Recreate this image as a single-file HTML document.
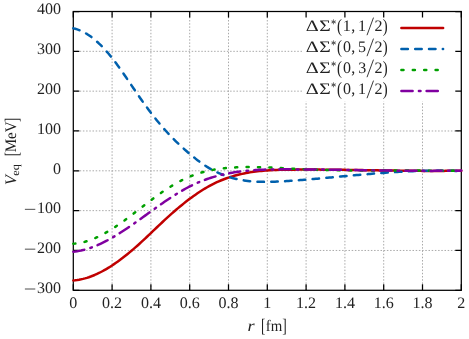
<!DOCTYPE html>
<html><head><meta charset="utf-8"><title>plot</title><style>html,body{margin:0;padding:0;background:#fff;}svg{display:block;will-change:transform;}</style></head><body>
<svg width="469" height="339" viewBox="0 0 469 339">
<rect width="469" height="339" fill="#fff"/>
<g stroke="#a0a0a0" stroke-width="0.9" stroke-dasharray="1.5 1.7" fill="none">
<path d="M112.10,290.30 V11.50"/>
<path d="M150.90,290.30 V11.50"/>
<path d="M189.70,290.30 V11.50"/>
<path d="M228.50,290.30 V11.50"/>
<path d="M267.30,290.30 V11.50"/>
<path d="M306.10,290.30 V11.50"/>
<path d="M344.90,290.30 V11.50"/>
<path d="M383.70,290.30 V11.50"/>
<path d="M422.50,290.30 V11.50"/>
<path d="M73.30,250.47 H461.30"/>
<path d="M73.30,210.64 H461.30"/>
<path d="M73.30,170.81 H461.30"/>
<path d="M73.30,130.99 H461.30"/>
<path d="M73.30,91.16 H461.30"/>
<path d="M73.30,51.33 H461.30"/>
</g>
<rect x="302.5" y="11.50" width="158.80" height="90.00" fill="#fff"/>
<g stroke="#000" stroke-width="1.25" fill="none">
<path d="M73.30,290.30 v-6.00 M73.30,11.50 v6.00"/>
<path d="M112.10,290.30 v-6.00 M112.10,11.50 v6.00"/>
<path d="M150.90,290.30 v-6.00 M150.90,11.50 v6.00"/>
<path d="M189.70,290.30 v-6.00 M189.70,11.50 v6.00"/>
<path d="M228.50,290.30 v-6.00 M228.50,11.50 v6.00"/>
<path d="M267.30,290.30 v-6.00 M267.30,11.50 v6.00"/>
<path d="M306.10,290.30 v-6.00 M306.10,11.50 v6.00"/>
<path d="M344.90,290.30 v-6.00 M344.90,11.50 v6.00"/>
<path d="M383.70,290.30 v-6.00 M383.70,11.50 v6.00"/>
<path d="M422.50,290.30 v-6.00 M422.50,11.50 v6.00"/>
<path d="M461.30,290.30 v-6.00 M461.30,11.50 v6.00"/>
<path d="M73.30,290.30 h6.00 M461.30,290.30 h-6.00"/>
<path d="M73.30,250.47 h6.00 M461.30,250.47 h-6.00"/>
<path d="M73.30,210.64 h6.00 M461.30,210.64 h-6.00"/>
<path d="M73.30,170.81 h6.00 M461.30,170.81 h-6.00"/>
<path d="M73.30,130.99 h6.00 M461.30,130.99 h-6.00"/>
<path d="M73.30,91.16 h6.00 M461.30,91.16 h-6.00"/>
<path d="M73.30,51.33 h6.00 M461.30,51.33 h-6.00"/>
<path d="M73.30,11.50 h6.00 M461.30,11.50 h-6.00"/>
<rect x="73.30" y="11.50" width="388.00" height="278.80"/>
</g>
<g fill="none" stroke-width="2.5" stroke-linecap="round" stroke-linejoin="round">
<path d="M73.30,280.45 L75.24,280.28 L77.18,280.03 L79.12,279.72 L81.06,279.34 L83.00,278.90 L84.94,278.40 L86.88,277.83 L88.82,277.20 L90.76,276.52 L92.70,275.78 L94.64,274.98 L96.58,274.12 L98.52,273.21 L100.46,272.25 L102.40,271.24 L104.34,270.18 L106.28,269.07 L108.22,267.91 L110.16,266.70 L112.10,265.45 L114.04,264.16 L115.98,262.83 L117.92,261.45 L119.86,260.03 L121.80,258.58 L123.74,257.08 L125.68,255.56 L127.62,253.99 L129.56,252.40 L131.50,250.77 L133.44,249.11 L135.38,247.42 L137.32,245.71 L139.26,243.96 L141.20,242.19 L143.14,240.40 L145.08,238.59 L147.02,236.76 L148.96,234.92 L150.90,233.07 L152.84,231.21 L154.78,229.36 L156.72,227.50 L158.66,225.66 L160.60,223.82 L162.54,222.00 L164.48,220.19 L166.42,218.40 L168.36,216.64 L170.30,214.89 L172.24,213.17 L174.18,211.47 L176.12,209.80 L178.06,208.15 L180.00,206.53 L181.94,204.93 L183.88,203.37 L185.82,201.83 L187.76,200.33 L189.70,198.86 L191.64,197.42 L193.58,196.02 L195.52,194.65 L197.46,193.32 L199.40,192.02 L201.34,190.76 L203.28,189.55 L205.22,188.37 L207.16,187.24 L209.10,186.15 L211.04,185.10 L212.98,184.10 L214.92,183.14 L216.86,182.22 L218.80,181.35 L220.74,180.52 L222.68,179.73 L224.62,178.98 L226.56,178.27 L228.50,177.60 L230.44,176.96 L232.38,176.36 L234.32,175.80 L236.26,175.26 L238.20,174.76 L240.14,174.29 L242.08,173.85 L244.02,173.44 L245.96,173.06 L247.90,172.70 L249.84,172.37 L251.78,172.07 L253.72,171.79 L255.66,171.53 L257.60,171.30 L259.54,171.08 L261.48,170.89 L263.42,170.71 L265.36,170.56 L267.30,170.42 L269.24,170.29 L271.18,170.18 L273.12,170.09 L275.06,170.00 L277.00,169.93 L278.94,169.87 L280.88,169.82 L282.82,169.77 L284.76,169.74 L286.70,169.71 L288.64,169.68 L290.58,169.66 L292.52,169.64 L294.46,169.63 L296.40,169.62 L298.34,169.61 L300.28,169.60 L302.22,169.59 L304.16,169.59 L306.10,169.59 L308.04,169.59 L309.98,169.59 L311.92,169.59 L313.86,169.60 L315.80,169.61 L317.74,169.61 L319.68,169.62 L321.62,169.63 L323.56,169.65 L325.50,169.66 L327.44,169.68 L329.38,169.69 L331.32,169.71 L333.26,169.73 L335.20,169.75 L337.14,169.77 L339.08,169.80 L341.02,169.82 L342.96,169.84 L344.90,169.87 L346.84,169.89 L348.78,169.92 L350.72,169.95 L352.66,169.97 L354.60,170.00 L356.54,170.03 L358.48,170.06 L360.42,170.09 L362.36,170.12 L364.30,170.15 L366.24,170.18 L368.18,170.21 L370.12,170.24 L372.06,170.27 L374.00,170.30 L375.94,170.33 L377.88,170.36 L379.82,170.39 L381.76,170.42 L383.70,170.45 L385.64,170.48 L387.58,170.50 L389.52,170.53 L391.46,170.56 L393.40,170.59 L395.34,170.61 L397.28,170.64 L399.22,170.66 L401.16,170.68 L403.10,170.71 L405.04,170.73 L406.98,170.75 L408.92,170.77 L410.86,170.79 L412.80,170.81 L414.74,170.82 L416.68,170.84 L418.62,170.85 L420.56,170.86 L422.50,170.88 L424.44,170.89 L426.38,170.89 L428.32,170.90 L430.26,170.90 L432.20,170.91 L434.14,170.91 L436.08,170.91 L438.02,170.90 L439.96,170.90 L441.90,170.89 L443.84,170.89 L445.78,170.87 L447.72,170.86 L449.66,170.85 L451.60,170.83 L453.54,170.81 L455.48,170.79 L457.42,170.76 L459.36,170.74 L461.30,170.71" stroke="#c00000"/>
<path d="M73.30,28.38 L75.24,28.82 L77.18,29.38 L79.12,30.06 L81.06,30.86 L83.00,31.77 L84.94,32.80 L86.88,33.94 L88.82,35.20 L90.76,36.55 L92.70,38.02 L94.64,39.59 L96.58,41.26 L98.52,43.03 L100.46,44.90 L102.40,46.86 L104.34,48.92 L106.28,51.06 L108.22,53.30 L110.16,55.63 L112.10,58.04 L114.04,60.53 L115.98,63.10 L117.92,65.74 L119.86,68.43 L121.80,71.17 L123.74,73.96 L125.68,76.77 L127.62,79.62 L129.56,82.48 L131.50,85.34 L133.44,88.21 L135.38,91.07 L137.32,93.91 L139.26,96.72 L141.20,99.50 L143.14,102.24 L145.08,104.94 L147.02,107.59 L148.96,110.20 L150.90,112.76 L152.84,115.28 L154.78,117.75 L156.72,120.17 L158.66,122.54 L160.60,124.86 L162.54,127.13 L164.48,129.35 L166.42,131.52 L168.36,133.64 L170.30,135.70 L172.24,137.71 L174.18,139.67 L176.12,141.59 L178.06,143.46 L180.00,145.29 L181.94,147.08 L183.88,148.83 L185.82,150.54 L187.76,152.22 L189.70,153.87 L191.64,155.49 L193.58,157.08 L195.52,158.63 L197.46,160.14 L199.40,161.60 L201.34,163.01 L203.28,164.37 L205.22,165.67 L207.16,166.91 L209.10,168.08 L211.04,169.20 L212.98,170.26 L214.92,171.26 L216.86,172.21 L218.80,173.10 L220.74,173.94 L222.68,174.73 L224.62,175.46 L226.56,176.15 L228.50,176.80 L230.44,177.39 L232.38,177.94 L234.32,178.45 L236.26,178.92 L238.20,179.35 L240.14,179.73 L242.08,180.08 L244.02,180.40 L245.96,180.68 L247.90,180.93 L249.84,181.14 L251.78,181.32 L253.72,181.48 L255.66,181.61 L257.60,181.71 L259.54,181.79 L261.48,181.84 L263.42,181.87 L265.36,181.88 L267.30,181.87 L269.24,181.85 L271.18,181.80 L273.12,181.75 L275.06,181.68 L277.00,181.59 L278.94,181.50 L280.88,181.39 L282.82,181.28 L284.76,181.16 L286.70,181.04 L288.64,180.91 L290.58,180.78 L292.52,180.65 L294.46,180.51 L296.40,180.37 L298.34,180.22 L300.28,180.07 L302.22,179.92 L304.16,179.77 L306.10,179.61 L308.04,179.46 L309.98,179.29 L311.92,179.13 L313.86,178.97 L315.80,178.80 L317.74,178.63 L319.68,178.46 L321.62,178.29 L323.56,178.12 L325.50,177.94 L327.44,177.77 L329.38,177.59 L331.32,177.42 L333.26,177.24 L335.20,177.06 L337.14,176.88 L339.08,176.71 L341.02,176.53 L342.96,176.35 L344.90,176.17 L346.84,175.99 L348.78,175.82 L350.72,175.64 L352.66,175.47 L354.60,175.29 L356.54,175.12 L358.48,174.94 L360.42,174.77 L362.36,174.60 L364.30,174.44 L366.24,174.27 L368.18,174.11 L370.12,173.94 L372.06,173.78 L374.00,173.62 L375.94,173.47 L377.88,173.32 L379.82,173.17 L381.76,173.02 L383.70,172.88 L385.64,172.73 L387.58,172.60 L389.52,172.46 L391.46,172.33 L393.40,172.20 L395.34,172.08 L397.28,171.96 L399.22,171.85 L401.16,171.74 L403.10,171.63 L405.04,171.53 L406.98,171.43 L408.92,171.34 L410.86,171.25 L412.80,171.17 L414.74,171.09 L416.68,171.02 L418.62,170.95 L420.56,170.89 L422.50,170.84 L424.44,170.79 L426.38,170.75 L428.32,170.71 L430.26,170.68 L432.20,170.66 L434.14,170.64 L436.08,170.63 L438.02,170.62 L439.96,170.63 L441.90,170.64 L443.84,170.66 L445.78,170.68 L447.72,170.72 L449.66,170.76 L451.60,170.81 L453.54,170.86 L455.48,170.93 L457.42,171.00 L459.36,171.08 L461.30,171.17" stroke="#0060ad" stroke-dasharray="6.5 7.3"/>
<path d="M73.30,243.70 L75.24,243.56 L77.18,243.34 L79.12,243.05 L81.06,242.68 L83.00,242.25 L84.94,241.75 L86.88,241.18 L88.82,240.56 L90.76,239.87 L92.70,239.12 L94.64,238.32 L96.58,237.46 L98.52,236.55 L100.46,235.59 L102.40,234.58 L104.34,233.53 L106.28,232.43 L108.22,231.29 L110.16,230.12 L112.10,228.90 L114.04,227.65 L115.98,226.37 L117.92,225.05 L119.86,223.71 L121.80,222.34 L123.74,220.95 L125.68,219.53 L127.62,218.10 L129.56,216.64 L131.50,215.17 L133.44,213.69 L135.38,212.20 L137.32,210.70 L139.26,209.20 L141.20,207.70 L143.14,206.20 L145.08,204.70 L147.02,203.21 L148.96,201.73 L150.90,200.26 L152.84,198.80 L154.78,197.37 L156.72,195.95 L158.66,194.55 L160.60,193.18 L162.54,191.84 L164.48,190.53 L166.42,189.25 L168.36,188.00 L170.30,186.78 L172.24,185.60 L174.18,184.45 L176.12,183.34 L178.06,182.26 L180.00,181.22 L181.94,180.23 L183.88,179.27 L185.82,178.36 L187.76,177.49 L189.70,176.66 L191.64,175.88 L193.58,175.14 L195.52,174.44 L197.46,173.79 L199.40,173.17 L201.34,172.59 L203.28,172.05 L205.22,171.55 L207.16,171.08 L209.10,170.65 L211.04,170.24 L212.98,169.87 L214.92,169.53 L216.86,169.21 L218.80,168.93 L220.74,168.66 L222.68,168.42 L224.62,168.21 L226.56,168.01 L228.50,167.84 L230.44,167.69 L232.38,167.55 L234.32,167.43 L236.26,167.33 L238.20,167.24 L240.14,167.17 L242.08,167.11 L244.02,167.07 L245.96,167.04 L247.90,167.03 L249.84,167.03 L251.78,167.03 L253.72,167.05 L255.66,167.08 L257.60,167.12 L259.54,167.17 L261.48,167.23 L263.42,167.29 L265.36,167.36 L267.30,167.44 L269.24,167.52 L271.18,167.61 L273.12,167.70 L275.06,167.80 L277.00,167.90 L278.94,168.00 L280.88,168.10 L282.82,168.20 L284.76,168.31 L286.70,168.41 L288.64,168.51 L290.58,168.61 L292.52,168.71 L294.46,168.81 L296.40,168.90 L298.34,168.99 L300.28,169.07 L302.22,169.15 L304.16,169.23 L306.10,169.31 L308.04,169.38 L309.98,169.45 L311.92,169.52 L313.86,169.59 L315.80,169.65 L317.74,169.71 L319.68,169.77 L321.62,169.82 L323.56,169.87 L325.50,169.92 L327.44,169.97 L329.38,170.02 L331.32,170.06 L333.26,170.10 L335.20,170.14 L337.14,170.18 L339.08,170.21 L341.02,170.24 L342.96,170.27 L344.90,170.30 L346.84,170.33 L348.78,170.35 L350.72,170.38 L352.66,170.40 L354.60,170.42 L356.54,170.44 L358.48,170.46 L360.42,170.47 L362.36,170.49 L364.30,170.50 L366.24,170.52 L368.18,170.53 L370.12,170.54 L372.06,170.55 L374.00,170.56 L375.94,170.56 L377.88,170.57 L379.82,170.58 L381.76,170.58 L383.70,170.59 L385.64,170.59 L387.58,170.59 L389.52,170.59 L391.46,170.60 L393.40,170.60 L395.34,170.60 L397.28,170.60 L399.22,170.60 L401.16,170.60 L403.10,170.60 L405.04,170.60 L406.98,170.61 L408.92,170.61 L410.86,170.61 L412.80,170.61 L414.74,170.61 L416.68,170.61 L418.62,170.61 L420.56,170.62 L422.50,170.62 L424.44,170.62 L426.38,170.63 L428.32,170.63 L430.26,170.64 L432.20,170.64 L434.14,170.65 L436.08,170.66 L438.02,170.66 L439.96,170.67 L441.90,170.68 L443.84,170.70 L445.78,170.71 L447.72,170.72 L449.66,170.74 L451.60,170.75 L453.54,170.77 L455.48,170.79 L457.42,170.81 L459.36,170.84 L461.30,170.86" stroke="#00a000" stroke-dasharray="2.1 9.3"/>
<path d="M73.30,251.65 L75.24,251.46 L77.18,251.21 L79.12,250.89 L81.06,250.52 L83.00,250.09 L84.94,249.60 L86.88,249.05 L88.82,248.45 L90.76,247.80 L92.70,247.10 L94.64,246.36 L96.58,245.56 L98.52,244.72 L100.46,243.84 L102.40,242.92 L104.34,241.96 L106.28,240.95 L108.22,239.92 L110.16,238.85 L112.10,237.74 L114.04,236.61 L115.98,235.44 L117.92,234.25 L119.86,233.03 L121.80,231.79 L123.74,230.53 L125.68,229.24 L127.62,227.94 L129.56,226.62 L131.50,225.28 L133.44,223.93 L135.38,222.57 L137.32,221.19 L139.26,219.81 L141.20,218.42 L143.14,217.03 L145.08,215.63 L147.02,214.23 L148.96,212.83 L150.90,211.44 L152.84,210.04 L154.78,208.65 L156.72,207.27 L158.66,205.90 L160.60,204.53 L162.54,203.18 L164.48,201.84 L166.42,200.52 L168.36,199.22 L170.30,197.93 L172.24,196.66 L174.18,195.42 L176.12,194.20 L178.06,193.00 L180.00,191.84 L181.94,190.70 L183.88,189.59 L185.82,188.52 L187.76,187.48 L189.70,186.48 L191.64,185.51 L193.58,184.58 L195.52,183.69 L197.46,182.83 L199.40,182.01 L201.34,181.22 L203.28,180.46 L205.22,179.74 L207.16,179.05 L209.10,178.39 L211.04,177.76 L212.98,177.16 L214.92,176.59 L216.86,176.05 L218.80,175.54 L220.74,175.05 L222.68,174.59 L224.62,174.15 L226.56,173.74 L228.50,173.36 L230.44,172.99 L232.38,172.65 L234.32,172.33 L236.26,172.04 L238.20,171.76 L240.14,171.50 L242.08,171.26 L244.02,171.04 L245.96,170.84 L247.90,170.65 L249.84,170.48 L251.78,170.33 L253.72,170.19 L255.66,170.06 L257.60,169.95 L259.54,169.85 L261.48,169.76 L263.42,169.69 L265.36,169.62 L267.30,169.56 L269.24,169.51 L271.18,169.47 L273.12,169.44 L275.06,169.41 L277.00,169.39 L278.94,169.38 L280.88,169.37 L282.82,169.36 L284.76,169.36 L286.70,169.36 L288.64,169.36 L290.58,169.36 L292.52,169.37 L294.46,169.37 L296.40,169.38 L298.34,169.39 L300.28,169.40 L302.22,169.41 L304.16,169.42 L306.10,169.44 L308.04,169.45 L309.98,169.47 L311.92,169.49 L313.86,169.51 L315.80,169.53 L317.74,169.55 L319.68,169.57 L321.62,169.59 L323.56,169.62 L325.50,169.64 L327.44,169.67 L329.38,169.69 L331.32,169.72 L333.26,169.75 L335.20,169.77 L337.14,169.80 L339.08,169.83 L341.02,169.86 L342.96,169.89 L344.90,169.92 L346.84,169.95 L348.78,169.98 L350.72,170.01 L352.66,170.04 L354.60,170.07 L356.54,170.10 L358.48,170.13 L360.42,170.17 L362.36,170.20 L364.30,170.23 L366.24,170.26 L368.18,170.29 L370.12,170.32 L372.06,170.35 L374.00,170.38 L375.94,170.41 L377.88,170.44 L379.82,170.46 L381.76,170.49 L383.70,170.52 L385.64,170.55 L387.58,170.57 L389.52,170.60 L391.46,170.62 L393.40,170.65 L395.34,170.67 L397.28,170.69 L399.22,170.71 L401.16,170.73 L403.10,170.75 L405.04,170.77 L406.98,170.78 L408.92,170.80 L410.86,170.81 L412.80,170.83 L414.74,170.84 L416.68,170.85 L418.62,170.86 L420.56,170.87 L422.50,170.87 L424.44,170.88 L426.38,170.88 L428.32,170.88 L430.26,170.88 L432.20,170.88 L434.14,170.87 L436.08,170.87 L438.02,170.86 L439.96,170.85 L441.90,170.84 L443.84,170.83 L445.78,170.81 L447.72,170.79 L449.66,170.77 L451.60,170.75 L453.54,170.73 L455.48,170.70 L457.42,170.67 L459.36,170.64 L461.30,170.61" stroke="#8000a0" stroke-dasharray="11.2 6.3 1.6 6.1"/>
<path d="M401.4,28.0 H443.1" stroke="#c00000"/>
<path d="M401.4,49.0 H443.1" stroke="#0060ad" stroke-dasharray="6.5 7.3"/>
<path d="M401.4,70.0 H443.1" stroke="#00a000" stroke-dasharray="2.1 9.3"/>
<path d="M401.4,91.0 H443.1" stroke="#8000a0" stroke-dasharray="11.2 6.3 1.6 6.1"/>
</g>
<g text-rendering="geometricPrecision" font-family="'Liberation Serif', serif" font-size="16" fill="#222">
<text x="73.30" y="308" text-anchor="middle">0</text>
<text x="112.10" y="308" text-anchor="middle">0.2</text>
<text x="150.90" y="308" text-anchor="middle">0.4</text>
<text x="189.70" y="308" text-anchor="middle">0.6</text>
<text x="228.50" y="308" text-anchor="middle">0.8</text>
<text x="267.30" y="308" text-anchor="middle">1</text>
<text x="306.10" y="308" text-anchor="middle">1.2</text>
<text x="344.90" y="308" text-anchor="middle">1.4</text>
<text x="383.70" y="308" text-anchor="middle">1.6</text>
<text x="422.50" y="308" text-anchor="middle">1.8</text>
<text x="461.30" y="308" text-anchor="middle">2</text>
<text x="60.9" y="293.00" text-anchor="end">300</text>
<path d="M24.9,289.00 H35.3" stroke="#222" stroke-width="0.8"/>
<text x="60.9" y="253.17" text-anchor="end">200</text>
<path d="M24.9,249.17 H35.3" stroke="#222" stroke-width="0.8"/>
<text x="60.9" y="213.34" text-anchor="end">100</text>
<path d="M24.9,209.34 H35.3" stroke="#222" stroke-width="0.8"/>
<text x="60.9" y="173.51" text-anchor="end">0</text>
<text x="60.9" y="133.69" text-anchor="end">100</text>
<text x="60.9" y="93.86" text-anchor="end">200</text>
<text x="60.9" y="54.03" text-anchor="end">300</text>
<text x="60.9" y="14.20" text-anchor="end">400</text>
<text transform="translate(247.56,330.50) scale(1.138,1.000)" font-style="italic">r</text>
<text transform="translate(261.00,331.80) scale(0.842,1.200)">[</text>
<text transform="translate(265.74,330.50) scale(0.928,1.000)">fm</text>
<text transform="translate(282.21,331.80) scale(0.842,1.200)">]</text>
<text transform="translate(16.20,185.03) rotate(-90) scale(0.993,1.000)" font-style="italic">V</text>
<text transform="translate(18.50,175.68) rotate(-90) scale(1.107,1.000)" font-size="11.00">eq</text>
<text transform="translate(17.50,156.18) rotate(-90) scale(0.800,1.200)">[</text>
<text transform="translate(16.20,152.33) rotate(-90) scale(0.937,1.000)">MeV</text>
<text transform="translate(17.50,121.89) rotate(-90) scale(0.800,1.200)">]</text>
<text transform="translate(305.63,30.50) scale(1.267,1.000)">Δ</text>
<text transform="translate(319.23,30.50) scale(1.231,1.000)">Σ</text>
<text transform="translate(330.89,28.30) scale(0.801,1.000)" font-size="13.00">*</text>
<text transform="translate(337.05,31.70) scale(0.925,1.180)">(</text>
<text transform="translate(342.78,30.50) scale(1.000,1.000)">1</text>
<text transform="translate(351.25,30.50) scale(1.000,1.000)">,</text>
<text transform="translate(357.98,30.50) scale(1.000,1.000)">1</text>
<path d="M367.0,35.20 L373.5,17.60" stroke="#222" stroke-width="0.9" fill="none"/>
<text transform="translate(374.59,30.50) scale(1.000,1.000)">2</text>
<text transform="translate(382.72,31.70) scale(0.925,1.180)">)</text>
<text transform="translate(305.63,51.50) scale(1.267,1.000)">Δ</text>
<text transform="translate(319.23,51.50) scale(1.231,1.000)">Σ</text>
<text transform="translate(330.89,49.30) scale(0.801,1.000)" font-size="13.00">*</text>
<text transform="translate(337.05,52.70) scale(0.925,1.180)">(</text>
<text transform="translate(343.00,51.50) scale(1.000,1.000)">0</text>
<text transform="translate(351.25,51.50) scale(1.000,1.000)">,</text>
<text transform="translate(358.05,51.50) scale(1.000,1.000)">5</text>
<path d="M367.0,56.20 L373.5,38.60" stroke="#222" stroke-width="0.9" fill="none"/>
<text transform="translate(374.59,51.50) scale(1.000,1.000)">2</text>
<text transform="translate(382.72,52.70) scale(0.925,1.180)">)</text>
<text transform="translate(305.63,72.50) scale(1.267,1.000)">Δ</text>
<text transform="translate(319.23,72.50) scale(1.231,1.000)">Σ</text>
<text transform="translate(330.89,70.30) scale(0.801,1.000)" font-size="13.00">*</text>
<text transform="translate(337.05,73.70) scale(0.925,1.180)">(</text>
<text transform="translate(343.00,72.50) scale(1.000,1.000)">0</text>
<text transform="translate(351.25,72.50) scale(1.000,1.000)">,</text>
<text transform="translate(358.13,72.50) scale(1.000,1.000)">3</text>
<path d="M367.0,77.20 L373.5,59.60" stroke="#222" stroke-width="0.9" fill="none"/>
<text transform="translate(374.59,72.50) scale(1.000,1.000)">2</text>
<text transform="translate(382.72,73.70) scale(0.925,1.180)">)</text>
<text transform="translate(305.63,93.50) scale(1.267,1.000)">Δ</text>
<text transform="translate(319.23,93.50) scale(1.231,1.000)">Σ</text>
<text transform="translate(330.89,91.30) scale(0.801,1.000)" font-size="13.00">*</text>
<text transform="translate(337.05,94.70) scale(0.925,1.180)">(</text>
<text transform="translate(343.00,93.50) scale(1.000,1.000)">0</text>
<text transform="translate(351.25,93.50) scale(1.000,1.000)">,</text>
<text transform="translate(357.98,93.50) scale(1.000,1.000)">1</text>
<path d="M367.0,98.20 L373.5,80.60" stroke="#222" stroke-width="0.9" fill="none"/>
<text transform="translate(374.59,93.50) scale(1.000,1.000)">2</text>
<text transform="translate(382.72,94.70) scale(0.925,1.180)">)</text>
</g>
</svg>
</body></html>
